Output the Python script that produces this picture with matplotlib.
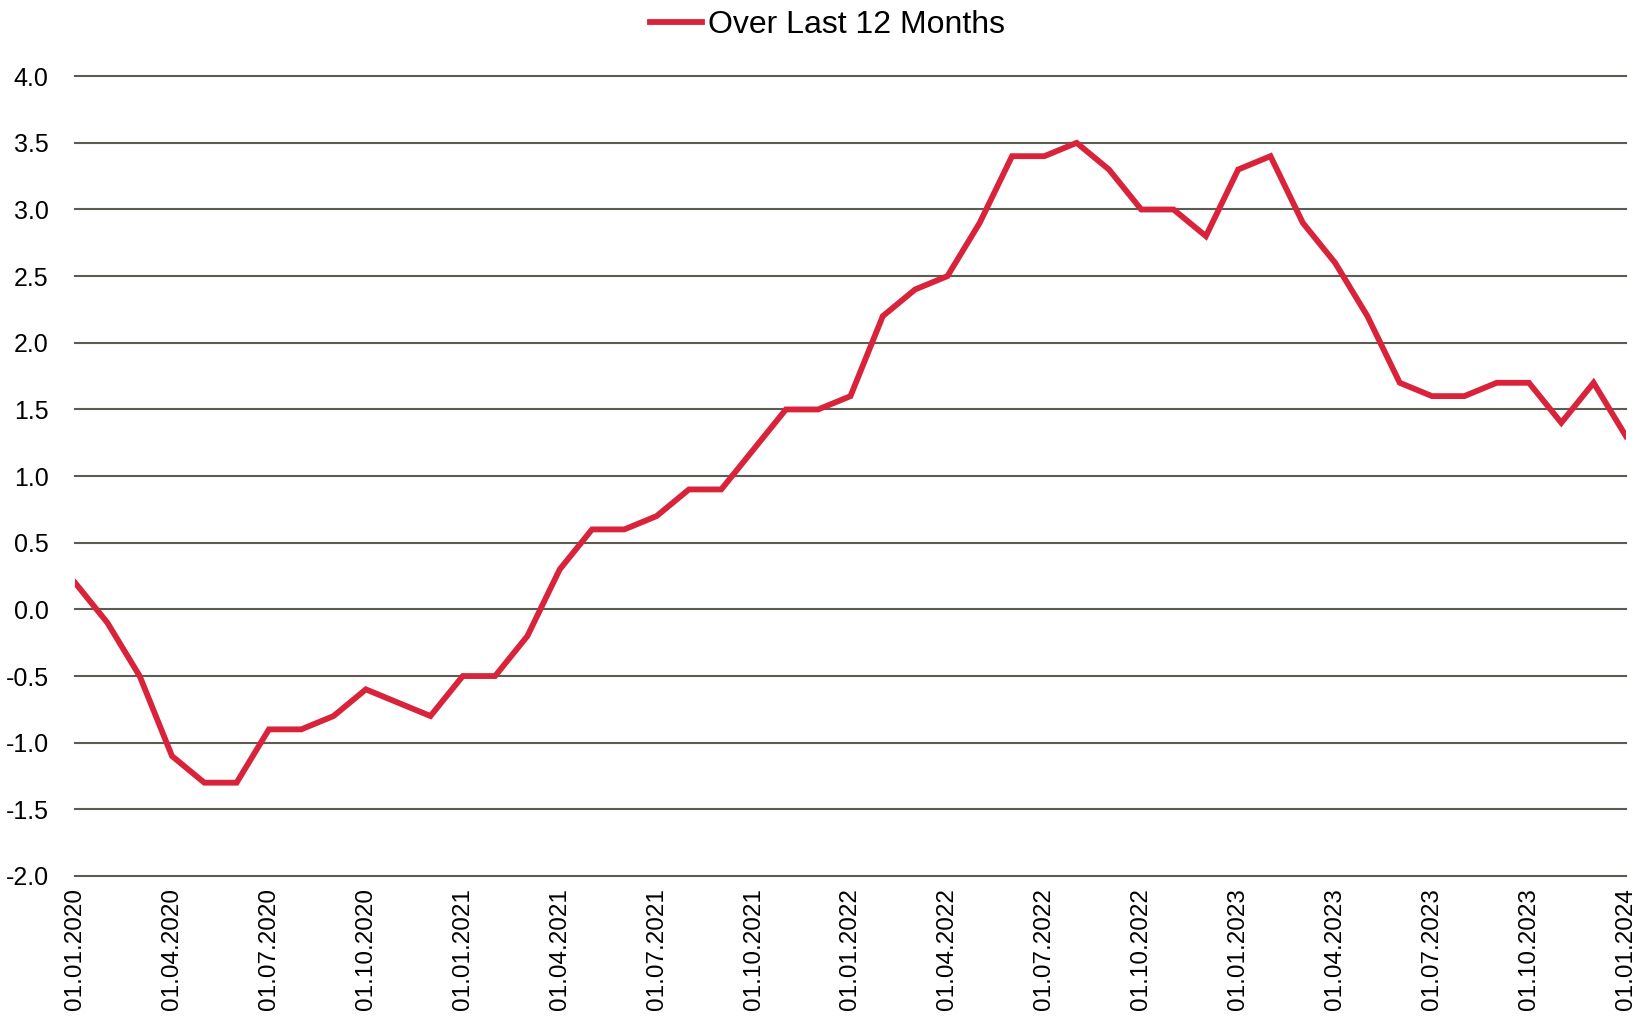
import matplotlib.pyplot as plt
import pandas as pd

plt.rcParams['font.family'] = ['Liberation Sans', 'DejaVu Sans']

# monthly values, 01.01.2020 .. 01.01.2024
dates = pd.date_range('2020-01-01', '2024-01-01', freq='MS')
values = [0.2, -0.1, -0.5, -1.1, -1.3, -1.3, -0.9, -0.9, -0.8, -0.6, -0.7, -0.8,
          -0.5, -0.5, -0.2, 0.3, 0.6, 0.6, 0.7, 0.9, 0.9, 1.2, 1.5, 1.5,
          1.6, 2.2, 2.4, 2.5, 2.9, 3.4, 3.4, 3.5, 3.3, 3.0, 3.0, 2.8,
          3.3, 3.4, 2.9, 2.6, 2.2, 1.7, 1.6, 1.6, 1.7, 1.7, 1.4, 1.7,
          1.3]
series_label = 'Over Last 12 Months'
yticks = [-2.0, -1.5, -1.0, -0.5, 0.0, 0.5, 1.0, 1.5, 2.0, 2.5, 3.0, 3.5, 4.0]

fig = plt.figure(figsize=(16.39, 10.16), dpi=100)
ax = fig.add_axes([0.0458, 0.1378, 0.9462, 0.7872])

x = list(range(len(dates)))
ax.plot(x, values, color='#d9233a', lw=4.2, solid_joinstyle='miter',
        label=series_label, zorder=3)

# horizontal grid, drawn unclipped so the top/bottom lines keep full width
for y in yticks:
    ax.axhline(y, color='#5c5c52', lw=1.5, zorder=1, clip_on=False)

ax.set_xlim(0, len(dates) - 1)
ax.set_ylim(-2.0, 4.0)
ax.set_yticks(yticks)
ax.set_yticklabels([f'{v:.1f}' for v in yticks])
tick_idx = x[::3]
ax.set_xticks(tick_idx)
ax.set_xticklabels([dates[i].strftime('%d.%m.%Y') for i in tick_idx], rotation=90)
ax.tick_params(axis='both', length=0)
ax.tick_params(axis='y', pad=19, labelsize=18)
ax.tick_params(axis='x', pad=9, labelsize=17.5)
for s in ax.spines.values():
    s.set_visible(False)

fig.legend(loc='upper center', bbox_to_anchor=(0.505, 1.018), frameon=False,
           fontsize=23, handlelength=1.6, handletextpad=0.2)

fig.savefig('out.png', dpi=100)
